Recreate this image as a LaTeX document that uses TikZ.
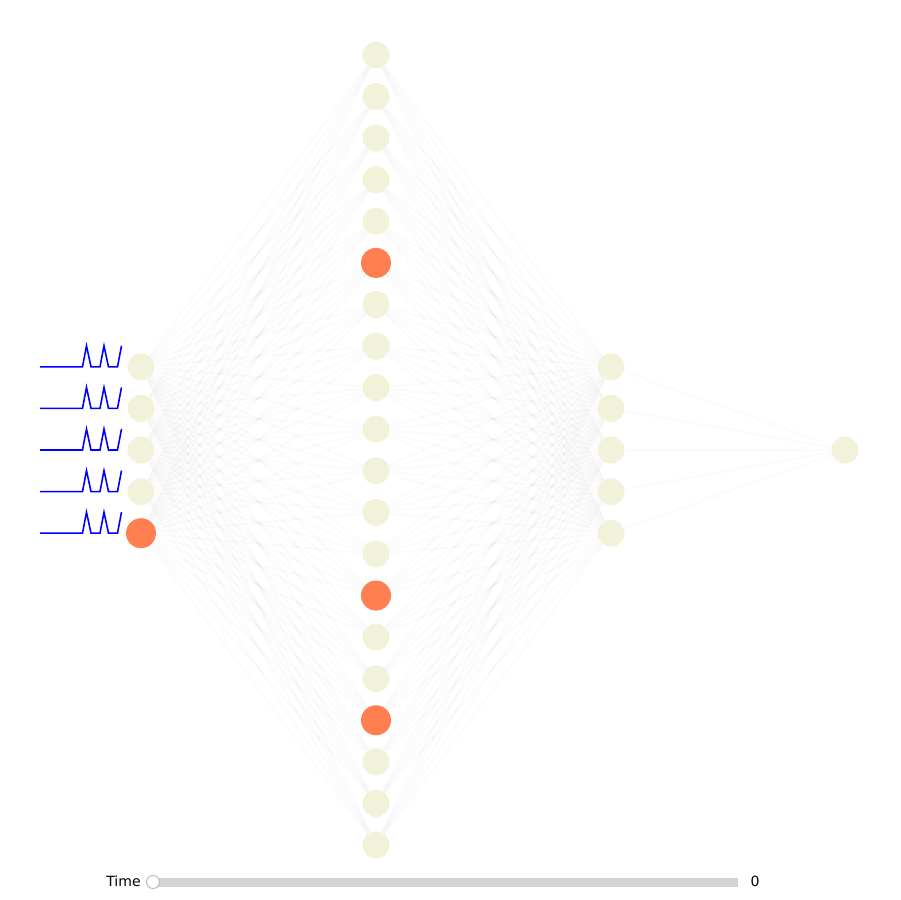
\documentclass[tikz,border=0pt]{standalone}
\usepackage{fontspec}
\setmainfont{DejaVu Sans}
\usetikzlibrary{calc,backgrounds}
\definecolor{cream}{HTML}{F2F2DA}
\definecolor{coral}{HTML}{FF7F50}
\definecolor{spike}{HTML}{0000FF}
\definecolor{track}{HTML}{D3D3D3}
\definecolor{knobline}{HTML}{BDBDBD}

\begin{document}
\begin{tikzpicture}[x=0.02cm,y=-0.02cm,
  neuron/.style={circle,fill=cream,minimum size=5.4mm,inner sep=0pt},
  fired/.style={circle,fill=coral,minimum size=6mm,inner sep=0pt},
  syn/.style={draw=gray,opacity=0.035,line width=1.1pt},
  train/.style={draw=spike,line width=0.9pt},
  lbl/.style={font=\fontsize{8}{9}\selectfont,inner sep=0pt}
]
\useasboundingbox (0,0) rectangle (900,900);

\foreach \x/\s in {1/neuron,2/neuron,3/neuron,4/neuron,5/fired}
  {\node[\s] (i\x) at (141,{450+(\x-3)*41.6}) {};}
\foreach \x/\s in {1/neuron,2/neuron,3/neuron,4/neuron,5/neuron,6/fired,7/neuron,
  8/neuron,9/neuron,10/neuron,11/neuron,12/neuron,13/neuron,14/fired,15/neuron,
  16/neuron,17/fired,18/neuron,19/neuron,20/neuron}
  {\node[\s] (h\x) at (376,{55+(\x-1)*41.58}) {};}
\foreach \x in {1,...,5}
  {\node[neuron] (o\x) at (611,{450+(\x-3)*41.6}) {};}
\node[neuron] (out) at (845,450) {};

\begin{scope}[on background layer]
\foreach \x in {1,...,5}{
  \foreach \y in {1,...,20}{\draw[syn] (i\x)--(h\y); \draw[syn] (h\y)--(o\x);}
  \draw[syn] (o\x)--(out);
}
\end{scope}

\foreach \x in {1,...,5}{
  \draw[train] ($(i\x)+(-101,0)$) -- ++(42.5,0) -- ++(4,-21) -- ++(4.5,21) -- ++(9,0)
    -- ++(4,-21) -- ++(4.5,21) -- ++(9,0) -- ++(4,-21);
}

\node[fill=track,minimum width=11.7cm,minimum height=1.8mm,inner sep=0pt,anchor=west] (bar) at (153,882) {};
\node[circle,draw=knobline,fill=white,line width=0.6pt,minimum size=2.6mm,inner sep=0pt] (knob) at (153,882) {};
\node[lbl,anchor=east] (tlabel) at (141,881) {Time};
\node[lbl] (tval) at (755,881) {0};
\end{tikzpicture}
\end{document}
